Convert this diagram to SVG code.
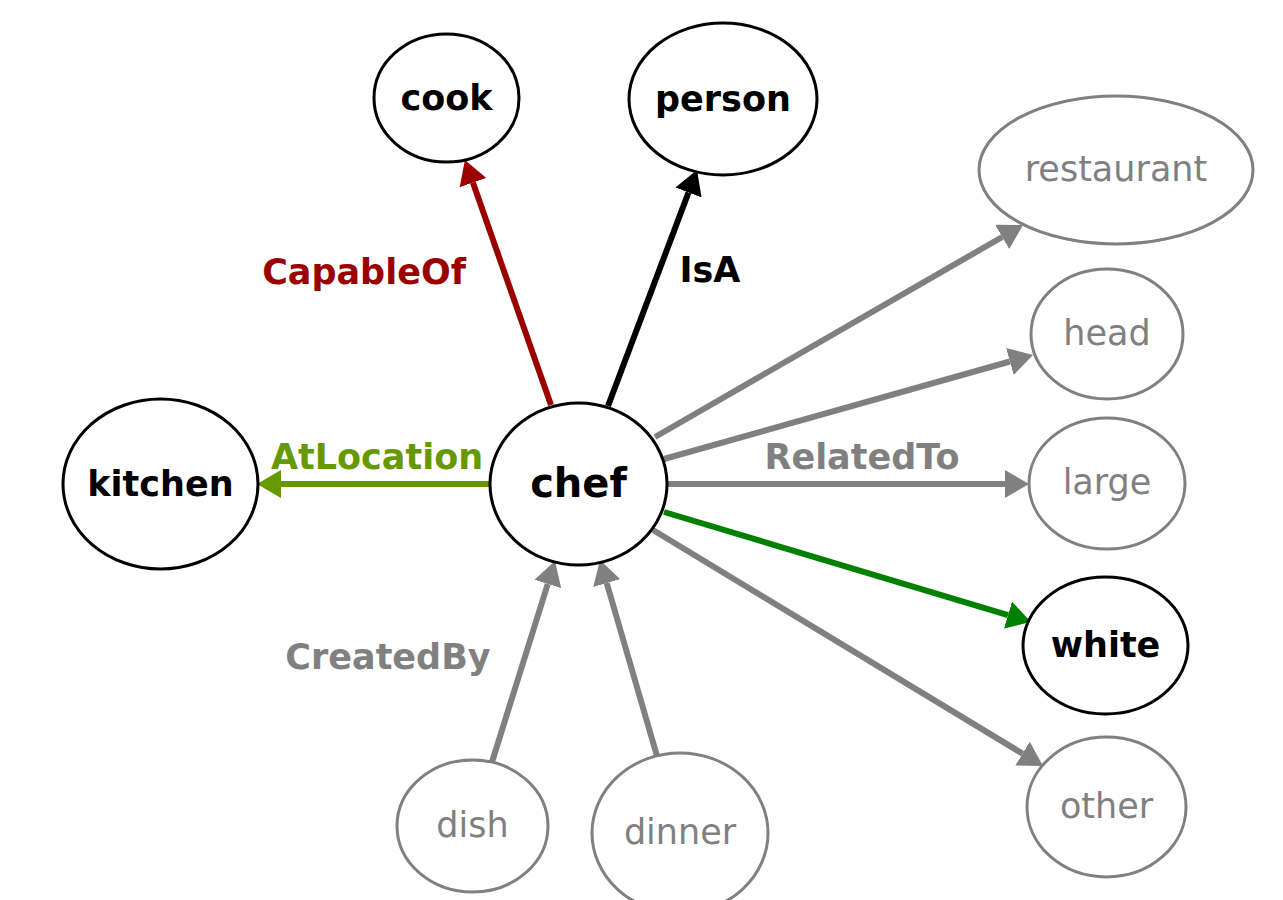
<svg xmlns="http://www.w3.org/2000/svg" width="1283" height="900" viewBox="0 0 1283 900">
  <style>
    .edge { fill: none; stroke-width: 6; }
    .node-main ellipse { fill: #fff; stroke: #000; stroke-width: 3; }
    .node-main text { fill: #000; font-weight: bold; }
    .node-rel ellipse { fill: #fff; stroke: #808080; stroke-width: 3; }
    .node-rel text { fill: #808080; }
    text { font-family: "DejaVu Sans", "Liberation Sans", sans-serif; font-size: 35px; text-anchor: middle; }
    .elabel { font-weight: bold; }
  </style>
  <defs>
    <marker id="ah-gray" markerUnits="userSpaceOnUse" markerWidth="24" markerHeight="28" viewBox="0 0 24 28" refX="0" refY="14" orient="auto">
      <path d="M0,0 L24,14 L0,28 z" fill="#808080"/>
    </marker>
    <marker id="ah-red" markerUnits="userSpaceOnUse" markerWidth="24" markerHeight="28" viewBox="0 0 24 28" refX="0" refY="14" orient="auto">
      <path d="M0,0 L24,14 L0,28 z" fill="#9b0000"/>
    </marker>
    <marker id="ah-black" markerUnits="userSpaceOnUse" markerWidth="24" markerHeight="28" viewBox="0 0 24 28" refX="0" refY="14" orient="auto">
      <path d="M0,0 L24,14 L0,28 z" fill="#000"/>
    </marker>
    <marker id="ah-olive" markerUnits="userSpaceOnUse" markerWidth="24" markerHeight="28" viewBox="0 0 24 28" refX="0" refY="14" orient="auto">
      <path d="M0,0 L24,14 L0,28 z" fill="#669900"/>
    </marker>
    <marker id="ah-green" markerUnits="userSpaceOnUse" markerWidth="24" markerHeight="28" viewBox="0 0 24 28" refX="0" refY="14" orient="auto">
      <path d="M0,0 L24,14 L0,28 z" fill="#008000"/>
    </marker>
  </defs>

  <g id="connectors">
    <path class="edge" d="M551,405 L472.9,182.6" stroke="#9b0000" marker-end="url(#ah-red)"/>
    <path class="edge" d="M608,406 L688.5,192.5" stroke="#000" marker-end="url(#ah-black)"/>
    <path class="edge" d="M490,484 L281,484" stroke="#669900" marker-end="url(#ah-olive)"/>
    <path class="edge" d="M655,437 L1002.2,237" stroke="#808080" marker-end="url(#ah-gray)"/>
    <path class="edge" d="M664,459 L1009.9,361.5" stroke="#808080" marker-end="url(#ah-gray)"/>
    <path class="edge" d="M668,484 L1005,484" stroke="#808080" marker-end="url(#ah-gray)"/>
    <path class="edge" d="M664,512 L1008,615.1" stroke="#008000" marker-end="url(#ah-green)"/>
    <path class="edge" d="M653,530 L1022.5,753.6" stroke="#808080" marker-end="url(#ah-gray)"/>
    <path class="edge" d="M492,762 L547.8,583.9" stroke="#808080" marker-end="url(#ah-gray)"/>
    <path class="edge" d="M657,756 L606.7,583" stroke="#808080" marker-end="url(#ah-gray)"/>

    <text class="elabel" x="364" y="284" fill="#9b0000">CapableOf</text>
    <text class="elabel" x="710" y="282" fill="#000">IsA</text>
    <text class="elabel" x="377" y="469" fill="#669900">AtLocation</text>
    <text class="elabel" x="862" y="469" fill="#808080">RelatedTo</text>
    <text class="elabel" x="388" y="669" fill="#808080">CreatedBy</text>
  </g>

  <g id="node-chef" class="node-main">
    <ellipse cx="578.5" cy="484" rx="88.5" ry="81"/>
    <text x="578.5" y="497" style="font-size:40px">chef</text>
  </g>
  <g id="node-cook" class="node-main">
    <ellipse cx="446.5" cy="98" rx="72.5" ry="64"/>
    <text x="446.5" y="110">cook</text>
  </g>
  <g id="node-person" class="node-main">
    <ellipse cx="723" cy="99" rx="94" ry="76"/>
    <text x="723" y="111">person</text>
  </g>
  <g id="node-kitchen" class="node-main">
    <ellipse cx="160.5" cy="484" rx="97.5" ry="85"/>
    <text x="160.5" y="496">kitchen</text>
  </g>
  <g id="node-white" class="node-main">
    <ellipse cx="1105.5" cy="645.5" rx="82.5" ry="68.5"/>
    <text x="1105.5" y="657">white</text>
  </g>
  <g id="node-restaurant" class="node-rel">
    <ellipse cx="1116" cy="170" rx="137" ry="74"/>
    <text x="1116" y="181">restaurant</text>
  </g>
  <g id="node-head" class="node-rel">
    <ellipse cx="1107" cy="334" rx="76" ry="65"/>
    <text x="1107" y="345">head</text>
  </g>
  <g id="node-large" class="node-rel">
    <ellipse cx="1107" cy="483.5" rx="78" ry="65.5"/>
    <text x="1107" y="494">large</text>
  </g>
  <g id="node-other" class="node-rel">
    <ellipse cx="1106.5" cy="807" rx="79.5" ry="70"/>
    <text x="1106.5" y="818">other</text>
  </g>
  <g id="node-dish" class="node-rel">
    <ellipse cx="472.5" cy="826" rx="75.5" ry="66"/>
    <text x="472.5" y="837">dish</text>
  </g>
  <g id="node-dinner" class="node-rel">
    <ellipse cx="680" cy="833" rx="88" ry="80"/>
    <text x="680" y="844">dinner</text>
  </g>
</svg>
